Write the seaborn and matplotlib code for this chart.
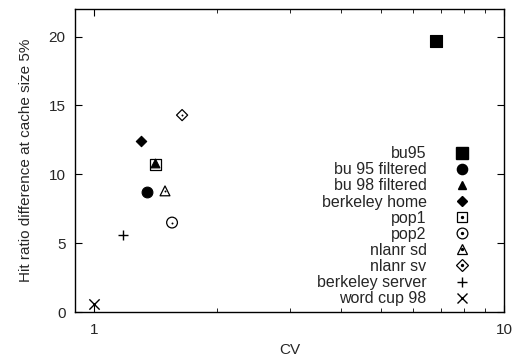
import matplotlib
matplotlib.use("Agg")
import matplotlib.pyplot as plt
import seaborn as sns
import pandas as pd
from matplotlib.lines import Line2D
from matplotlib.legend_handler import HandlerTuple
from matplotlib.ticker import FixedLocator, NullFormatter

names = ["bu95", "bu 95 filtered", "bu 98 filtered", "berkeley home", "pop1",
         "pop2", "nlanr sd", "nlanr sv", "berkeley server", "word cup 98"]
cv = [6.82, 1.35, 1.41, 1.30, 1.41, 1.55, 1.49, 1.64, 1.18, 1.00]
hit_diff = [19.7, 8.7, 10.8, 12.4, 10.7, 6.5, 8.8, 14.3, 5.6, 0.6]

markers = ["s", "o", "^", "D", "s", "o", "^", "D", "+", "x"]
filled = [True, True, True, True, False, False, False, False, None, None]
sizes = [70, 60, 40, 28, 60, 60, 50, 32, 60, 55]

sns.set_style("ticks")
plt.rcParams['font.family'] = ['Liberation Sans', 'DejaVu Sans']

df = pd.DataFrame({"name": names, "cv": cv, "hit": hit_diff})

fig, ax = plt.subplots(figsize=(5.15, 3.6), dpi=100)
fig.subplots_adjust(left=0.146, right=0.979, top=0.975, bottom=0.133)

handles = []
for i in range(len(names)):
    m = markers[i]
    f = filled[i]
    sub = df.iloc[[i]]
    if f is True:
        sns.scatterplot(data=sub, x="cv", y="hit", marker=m, s=sizes[i],
                        color="black", edgecolor="black", linewidth=0.8, ax=ax, zorder=3)
        h = Line2D([], [], marker=m, ls="none", color="black", markersize=sizes[i] ** 0.5 * 0.95)
    elif f is False:
        sns.scatterplot(data=sub, x="cv", y="hit", marker=m, s=sizes[i],
                        facecolor="none", edgecolor="black", linewidth=0.9, ax=ax, zorder=3)
        sns.scatterplot(data=sub, x="cv", y="hit", marker="o", s=2,
                        color="black", linewidth=0, ax=ax, zorder=4)
        h = (Line2D([], [], marker=m, ls="none", markerfacecolor="none",
                    markeredgecolor="black", markersize=sizes[i] ** 0.5, markeredgewidth=0.9),
             Line2D([], [], marker="o", ls="none", color="black", markersize=1.4))
    else:
        sns.scatterplot(data=sub, x="cv", y="hit", marker=m, s=sizes[i],
                        color="black", linewidth=1.0, ax=ax, zorder=3)
        h = Line2D([], [], marker=m, ls="none", color="black",
                   markersize=sizes[i] ** 0.5, markeredgewidth=1.0)
    handles.append(h)

ax.set_xscale("log")
ax.set_xlim(0.9, 10)
ax.set_ylim(0, 22)
ax.xaxis.set_major_locator(FixedLocator([1, 10]))
ax.set_xticklabels(["1", "10"])
ax.xaxis.set_minor_locator(FixedLocator([2, 3, 4, 5, 6, 7, 8, 9]))
ax.xaxis.set_minor_formatter(NullFormatter())
ax.set_yticks([0, 5, 10, 15, 20])
ax.tick_params(direction="in", top=True, right=True, which="both", labelsize=11, color="black")
ax.tick_params(which="major", length=5)
ax.tick_params(which="minor", length=3)
ax.tick_params(axis="x", pad=8)
ax.tick_params(axis="y", pad=7)
for sp in ax.spines.values():
    sp.set_visible(True)
    sp.set_linewidth(1.0)
    sp.set_color("black")

ax.set_xlabel("CV", fontsize=11, labelpad=4)
ax.set_ylabel("Hit ratio difference at cache size 5%", fontsize=11, labelpad=11)

leg = ax.legend(handles=handles, labels=names, loc="lower right",
                bbox_to_anchor=(0.953, -0.028), markerfirst=False, frameon=False,
                fontsize=11.5, handletextpad=1.7, labelspacing=0.07, handlelength=1.0,
                handler_map={tuple: HandlerTuple(ndivide=1, pad=0)})
for t in leg.get_texts():
    t.set_ha("right")

fig.savefig("out.png", dpi=100)
